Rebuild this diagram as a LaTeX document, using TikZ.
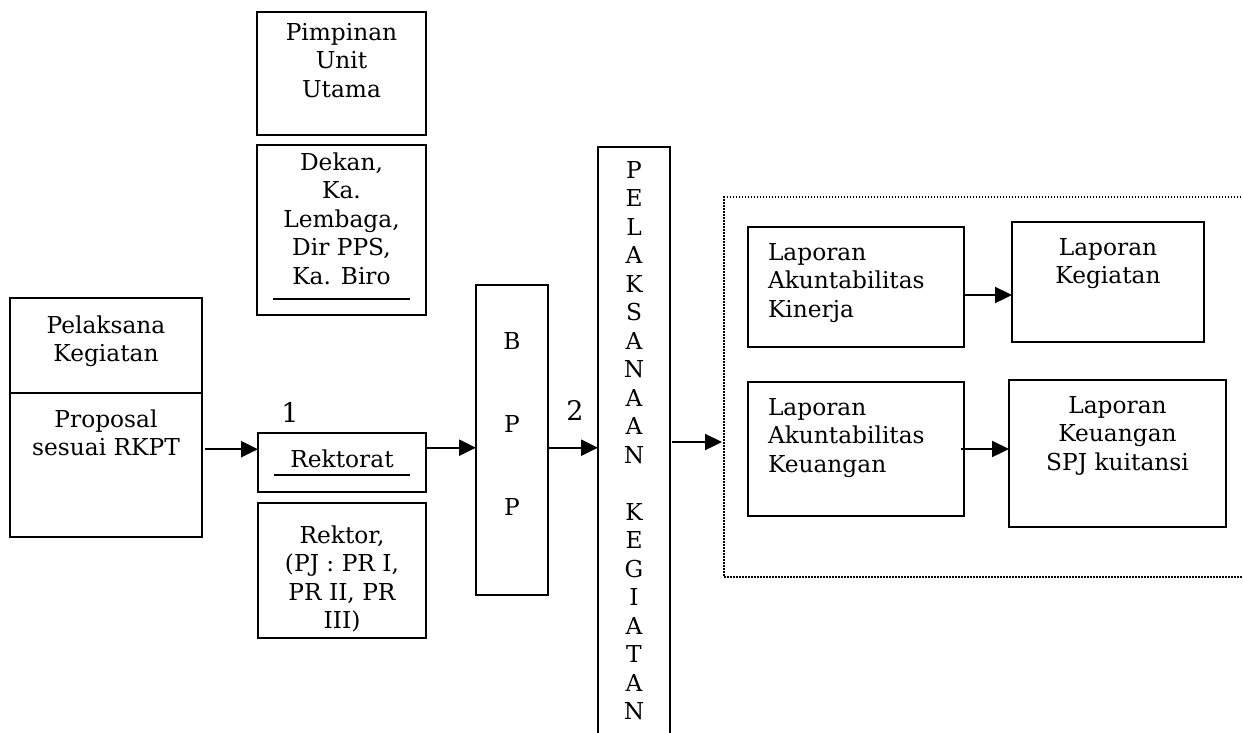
\documentclass[tikz,border=0pt]{standalone}
\usepackage{fontspec}
\setmainfont{DejaVu Serif}
\usetikzlibrary{shapes,arrows.meta}
\usetikzlibrary{positioning}
\usetikzlibrary{calc}
% box: name, width, height, first baseline, text
\newcommand\mybox[6][]{%
  \node[mybox,#1] (#2) {\parbox[c][#4pt][t]{#3pt}{\centering\rule{0pt}{#5pt}#6}};
}
\begin{document}
\begin{tikzpicture}[x=1pt,y=-1pt,
>={Triangle[length=17pt,width=16pt]},
mybox/.style={
  rectangle,
  draw,
  line width=2.6pt,
  inner sep=0pt,
  outer sep=0pt,
  anchor=north west,
  font=\fontsize{23.3}{28.5}\selectfont},
conn/.style={->,line width=2.3pt},
numlabel/.style={font=\fontsize{27}{30}\selectfont}
]
\useasboundingbox (0,0) rectangle (1243,732);

% kiri
\mybox[at={(10,298)}]{pelA}{192}{95}{35}{Pelaksana\\Kegiatan}
\mybox[below=0pt of pelA]{pelB}{192}{144}{34}{Proposal\\sesuai RKPT}

% rektorat
\mybox[at={(257,12)}]{pim}{169}{123}{28}{Pimpinan\\Unit\\Utama}
\mybox[below=10pt of pim]{dekan}{169}{170}{25}{Dekan,\\Ka.\\Lembaga,\\Dir PPS,\\Ka. Biro\\[-12.5pt]\rule{137pt}{2pt}}
\mybox[at={(258,433)}]{rektorat}{168}{59}{34}{Rektorat\\[-19.5pt]\rule{136pt}{2pt}}
\mybox[below=11pt of rektorat]{rektor}{168}{135}{40}{Rektor,\\(PJ : PR I,\\PR II, PR\\III)}
\node[numlabel] (n1) at (290,412) {1};

% BPP dan pelaksanaan
\mybox[at={(476,285)}]{bpp}{72}{310}{64}{\fontsize{23.3}{83}\selectfont B\\P\\P}
\mybox[at={(598,147)}]{pelk}{72}{620}{31}{P\\E\\L\\A\\K\\S\\A\\N\\A\\A\\N\\\mbox{}\\K\\E\\G\\I\\A\\T\\A\\N}
\node[numlabel] (n2) at (575,410) {2};

% laporan
\draw[line width=1.5pt,dash pattern=on 1.5pt off 1.5pt]
  (1250,197) -- (724,197) coordinate (fr) -- (724,577) -- (1250,577);
\coordinate (fin) at (722,442);
\mybox[at={(748,227)}]{lak}{216}{120}{33}{\raggedright\leftskip=20pt Laporan\\Akuntabilitas\\Kinerja}
\mybox[at={(1012,222)}]{lk}{192}{120}{33}{Laporan\\Kegiatan}
\mybox[below=35pt of lak]{lakeu}{216}{134}{33}{\raggedright\leftskip=20pt Laporan\\Akuntabilitas\\Keuangan}
\mybox[at={(1009,380)}]{lkeu}{217}{147}{33}{Laporan\\Keuangan\\SPJ kuitansi}

% panah
\draw[conn,shorten <=3pt] (pelB.east |- rektorat.171) -- (rektorat.171);
\draw[conn] (rektorat.10) -- (rektorat.10 -| bpp.west);
\draw[conn] (bpp.east |- rektorat.10) -- (pelk.west |- rektorat.10);
\draw[conn,shorten <=2pt] (pelk.east |- fin) -- (fin);
\draw[conn] ([yshift=-8pt]lak.east) coordinate (p1) -- (p1 -| lk.west);
\draw[conn] ([xshift=-3pt]lakeu.east) -- (lakeu.east -| lkeu.west);

\end{tikzpicture}
\end{document}
